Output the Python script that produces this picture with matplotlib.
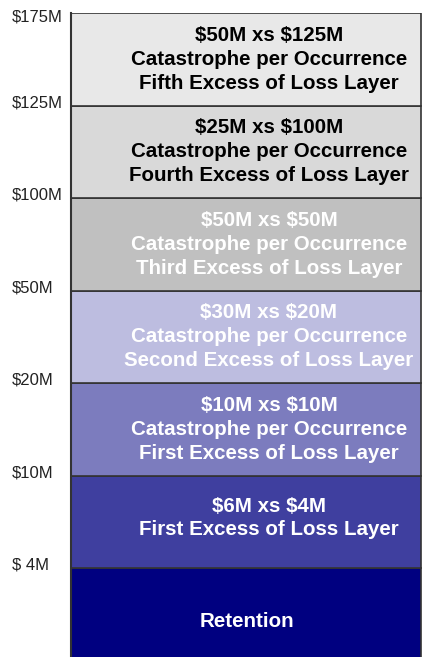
import matplotlib.pyplot as plt
from matplotlib.transforms import ScaledTranslation

# layer limits from the bottom up, each band drawn at equal height
tick_labels = ["$ 4M", "$10M", "$20M", "$50M", "$100M", "$125M", "$175M"]
layer_labels = [
    "Retention",
    "$6M xs $4M\nFirst Excess of Loss Layer",
    "$10M xs $10M\nCatastrophe per Occurrence\nFirst Excess of Loss Layer",
    "$30M xs $20M\nCatastrophe per Occurrence\nSecond Excess of Loss Layer",
    "$50M xs $50M\nCatastrophe per Occurrence\nThird Excess of Loss Layer",
    "$25M xs $100M\nCatastrophe per Occurrence\nFourth Excess of Loss Layer",
    "$50M xs $125M\nCatastrophe per Occurrence\nFifth Excess of Loss Layer",
]
band_heights = [1, 1, 1, 1, 1, 1, 1]
colors = ["#000080", "#3f3f9f", "#7c7cbe", "#bdbde0", "#c0c0c0", "#d9d9d9", "#e8e8e8"]
text_colors = ["white", "white", "white", "white", "white", "black", "black"]

plt.rcParams["font.family"] = ["Liberation Sans", "DejaVu Sans"]
plt.rcParams["text.parse_math"] = False

fig = plt.figure(figsize=(4.23, 6.57), dpi=100)
ax = fig.add_axes([71 / 423, -3.5 / 657, 352 / 423, 647.5 / 657])

# where inside each band the caption sits (fraction of band height)
caption_pos = [0.42, 0.54, 0.5, 0.5, 0.5, 0.5, 0.5]

bottom = 0
for i, h in enumerate(band_heights):
    ax.bar(0, h, width=350 / 352, bottom=bottom, align="edge",
           color=colors[i], edgecolor="#333333", linewidth=1.2)
    # layer captions sit right of centre, retention in the middle
    tx = 0.5 if i == 0 else 0.5625
    ty = bottom + caption_pos[i] * h
    ax.text(tx, ty, layer_labels[i], ha="center", va="center",
            fontsize=14.8, fontweight="bold", color=text_colors[i],
            linespacing=1.32)
    bottom += h

ax.set_xlim(0, 1)
ax.set_ylim(0, bottom)
ax.set_xticks([])
ax.set_yticks(range(1, bottom + 1))
ax.set_yticklabels(tick_labels, ha="left")
# left-aligned labels starting ~12px from the figure edge
ax.tick_params(axis="y", length=0, pad=42.5, labelsize=12, labelcolor="#222222")

# labels sit a little above their boundary line, the top one a little below
labels = ax.get_yticklabels()
for k, lab in enumerate(labels):
    dy = -2 / 72 if k == len(labels) - 1 else 3 / 72
    lab.set_transform(lab.get_transform() + ScaledTranslation(0, dy, fig.dpi_scale_trans))

for side in ["top", "right", "bottom"]:
    ax.spines[side].set_visible(False)
ax.spines["left"].set_color("#333333")
ax.spines["left"].set_linewidth(1.5)

fig.savefig("out.png", dpi=100)
